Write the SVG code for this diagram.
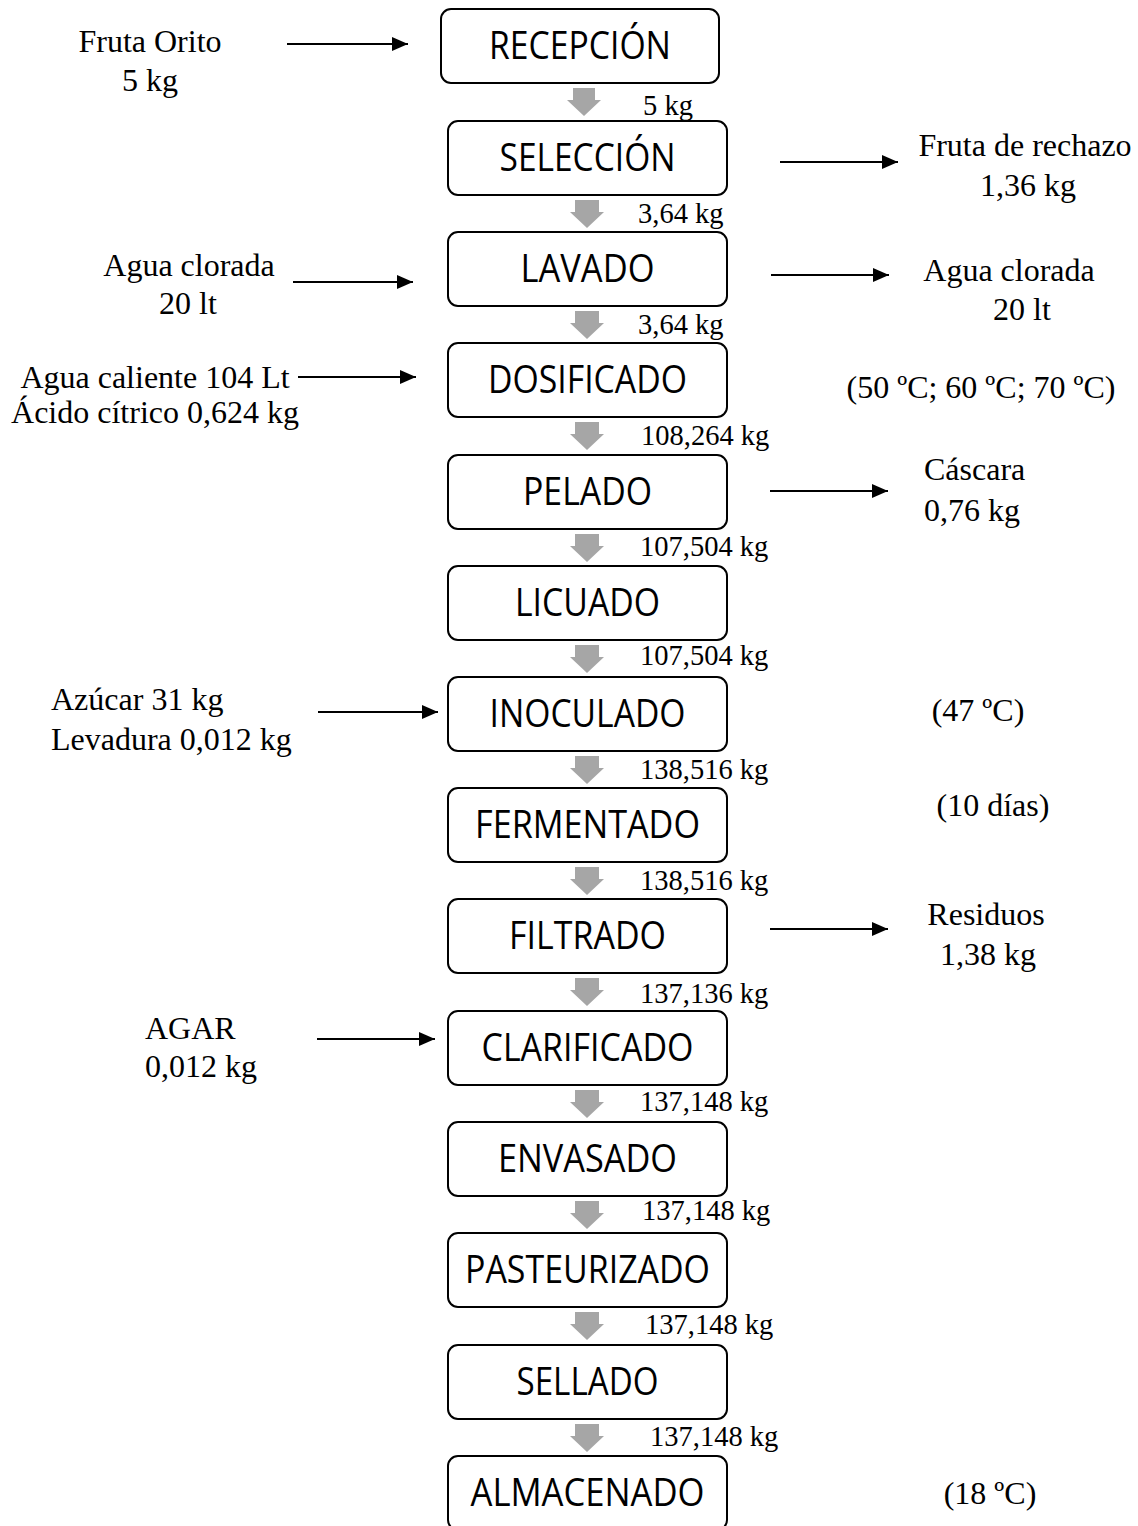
<svg xmlns="http://www.w3.org/2000/svg" width="1138" height="1526" viewBox="0 0 1138 1526">
<defs>
<style>
.box{fill:#fff;stroke:#000;stroke-width:2}
.lbl{font-family:"Open Sans","Liberation Sans",sans-serif;font-size:38px;fill:#000;text-anchor:middle}
.val{font-family:"Liberation Serif","Times New Roman",serif;font-size:28.5px;fill:#000}
.side{font-family:"Liberation Serif","Times New Roman",serif;font-size:32px;fill:#000}
.mid{text-anchor:middle}
.line{stroke:#000;stroke-width:2;fill:none;marker-end:url(#ah)}
.flow{fill:#a6a6a6}
</style>
<marker id="ah" markerUnits="userSpaceOnUse" markerWidth="16" markerHeight="14" viewBox="0 0 16 14" refX="16" refY="7" orient="auto">
<path d="M0,0 L16,7 L0,14 z" fill="#000"/>
</marker>
</defs>
<rect width="1138" height="1526" fill="#fff"/>

<g id="nodes">
<g id="recepcion"><rect class="box" x="441" y="9" width="278" height="74" rx="10"/><text class="lbl" x="580" y="59" textLength="182" lengthAdjust="spacingAndGlyphs">RECEPCIÓN</text></g>
<g id="seleccion"><rect class="box" x="448" y="121" width="279" height="74" rx="10"/><text class="lbl" x="587.5" y="171" textLength="176" lengthAdjust="spacingAndGlyphs">SELECCIÓN</text></g>
<g id="lavado"><rect class="box" x="448" y="232" width="279" height="74" rx="10"/><text class="lbl" x="587.5" y="282" textLength="134" lengthAdjust="spacingAndGlyphs">LAVADO</text></g>
<g id="dosificado"><rect class="box" x="448" y="343" width="279" height="74" rx="10"/><text class="lbl" x="587.5" y="393" textLength="199" lengthAdjust="spacingAndGlyphs">DOSIFICADO</text></g>
<g id="pelado"><rect class="box" x="448" y="455" width="279" height="74" rx="10"/><text class="lbl" x="587.5" y="505" textLength="129" lengthAdjust="spacingAndGlyphs">PELADO</text></g>
<g id="licuado"><rect class="box" x="448" y="566" width="279" height="74" rx="10"/><text class="lbl" x="587.5" y="616" textLength="145" lengthAdjust="spacingAndGlyphs">LICUADO</text></g>
<g id="inoculado"><rect class="box" x="448" y="677" width="279" height="74" rx="10"/><text class="lbl" x="587.5" y="727" textLength="196" lengthAdjust="spacingAndGlyphs">INOCULADO</text></g>
<g id="fermentado"><rect class="box" x="448" y="788" width="279" height="74" rx="10"/><text class="lbl" x="587.5" y="838" textLength="225" lengthAdjust="spacingAndGlyphs">FERMENTADO</text></g>
<g id="filtrado"><rect class="box" x="448" y="899" width="279" height="74" rx="10"/><text class="lbl" x="587.5" y="949" textLength="157" lengthAdjust="spacingAndGlyphs">FILTRADO</text></g>
<g id="clarificado"><rect class="box" x="448" y="1011" width="279" height="74" rx="10"/><text class="lbl" x="587.5" y="1061" textLength="212" lengthAdjust="spacingAndGlyphs">CLARIFICADO</text></g>
<g id="envasado"><rect class="box" x="448" y="1122" width="279" height="74" rx="10"/><text class="lbl" x="587.5" y="1172" textLength="179" lengthAdjust="spacingAndGlyphs">ENVASADO</text></g>
<g id="pasteurizado"><rect class="box" x="448" y="1233" width="279" height="74" rx="10"/><text class="lbl" x="587.5" y="1283" textLength="245" lengthAdjust="spacingAndGlyphs">PASTEURIZADO</text></g>
<g id="sellado"><rect class="box" x="448" y="1345" width="279" height="74" rx="10"/><text class="lbl" x="587.5" y="1395" textLength="142" lengthAdjust="spacingAndGlyphs">SELLADO</text></g>
<g id="almacenado"><rect class="box" x="448" y="1456" width="279" height="74" rx="10"/><text class="lbl" x="587.5" y="1506" textLength="234" lengthAdjust="spacingAndGlyphs">ALMACENADO</text></g>
</g>

<g id="connectors">
<polygon class="flow" points="573,88 595,88 595,100 601,100 584,116 567,100 573,100"/>
<polygon class="flow" points="575,200 599,200 599,212 604,212 587,228 570,212 575,212"/>
<polygon class="flow" points="575,311 599,311 599,323 604,323 587,339 570,323 575,323"/>
<polygon class="flow" points="575,422 599,422 599,434 604,434 587,450 570,434 575,434"/>
<polygon class="flow" points="575,534 599,534 599,546 604,546 587,562 570,546 575,546"/>
<polygon class="flow" points="575,645 599,645 599,657 604,657 587,673 570,657 575,657"/>
<polygon class="flow" points="575,756 599,756 599,768 604,768 587,784 570,768 575,768"/>
<polygon class="flow" points="575,867 599,867 599,879 604,879 587,895 570,879 575,879"/>
<polygon class="flow" points="575,978 599,978 599,990 604,990 587,1006 570,990 575,990"/>
<polygon class="flow" points="575,1090 599,1090 599,1102 604,1102 587,1118 570,1102 575,1102"/>
<polygon class="flow" points="575,1201 599,1201 599,1213 604,1213 587,1229 570,1213 575,1213"/>
<polygon class="flow" points="575,1312 599,1312 599,1324 604,1324 587,1340 570,1324 575,1324"/>
<polygon class="flow" points="575,1424 599,1424 599,1436 604,1436 587,1452 570,1436 575,1436"/>

<text class="val" x="643" y="115">5 kg</text>
<text class="val" x="638" y="223">3,64 kg</text>
<text class="val" x="638" y="334">3,64 kg</text>
<text class="val" x="641" y="445">108,264 kg</text>
<text class="val" x="640" y="556">107,504 kg</text>
<text class="val" x="640" y="665">107,504 kg</text>
<text class="val" x="640" y="779">138,516 kg</text>
<text class="val" x="640" y="890">138,516 kg</text>
<text class="val" x="640" y="1003">137,136 kg</text>
<text class="val" x="640" y="1111">137,148 kg</text>
<text class="val" x="642" y="1220">137,148 kg</text>
<text class="val" x="645" y="1334">137,148 kg</text>
<text class="val" x="650" y="1446">137,148 kg</text>

<line class="line" x1="287" y1="44" x2="408" y2="44"/>
<line class="line" x1="780" y1="162" x2="898" y2="162"/>
<line class="line" x1="293" y1="282" x2="413" y2="282"/>
<line class="line" x1="771" y1="275" x2="889" y2="275"/>
<line class="line" x1="298" y1="377" x2="416" y2="377"/>
<line class="line" x1="770" y1="491" x2="888" y2="491"/>
<line class="line" x1="318" y1="712" x2="438" y2="712"/>
<line class="line" x1="770" y1="929" x2="888" y2="929"/>
<line class="line" x1="317" y1="1039" x2="435" y2="1039"/>
</g>

<g id="annotations">
<text class="side mid" x="150" y="52">Fruta Orito</text>
<text class="side mid" x="150" y="91">5 kg</text>
<text class="side mid" x="1025" y="156">Fruta de rechazo</text>
<text class="side mid" x="1028" y="196">1,36 kg</text>
<text class="side mid" x="189" y="276">Agua clorada</text>
<text class="side mid" x="188" y="314">20 lt</text>
<text class="side mid" x="1009" y="281">Agua clorada</text>
<text class="side mid" x="1022" y="320">20 lt</text>
<text class="side mid" x="155" y="388">Agua caliente 104 Lt</text>
<text class="side mid" x="155" y="423">Ácido cítrico 0,624 kg</text>
<text class="side mid" x="981" y="398">(50 ºC; 60 ºC; 70 ºC)</text>
<text class="side" x="924" y="480">Cáscara</text>
<text class="side" x="924" y="521">0,76 kg</text>
<text class="side" x="51" y="710">Azúcar 31 kg</text>
<text class="side" x="51" y="750">Levadura 0,012 kg</text>
<text class="side mid" x="978" y="721">(47 ºC)</text>
<text class="side mid" x="993" y="816">(10 días)</text>
<text class="side mid" x="986" y="925">Residuos</text>
<text class="side mid" x="988" y="965">1,38 kg</text>
<text class="side" x="145" y="1039">AGAR</text>
<text class="side" x="145" y="1077">0,012 kg</text>
<text class="side mid" x="990" y="1504">(18 ºC)</text>
</g>
</svg>
